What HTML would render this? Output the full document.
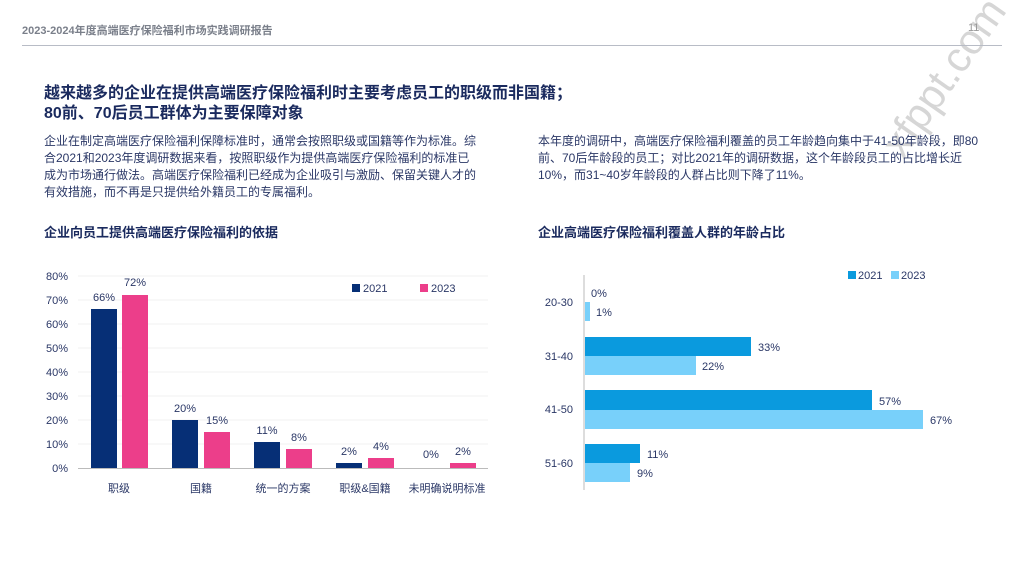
<!DOCTYPE html>
<html><head><meta charset="utf-8"><style>
body{margin:0;width:1024px;height:577px;background:#fff;font-family:"Liberation Sans","Noto Sans CJK SC",sans-serif;position:relative;overflow:hidden}
.a{position:absolute;white-space:nowrap}
</style></head><body>
<div class="a" style="font-size:42px;color:#d6d6d6;transform:rotate(-55deg);transform-origin:left top;left:872px;top:138px">xfppt.com</div>
<div class="a" style="left:22px;top:22px;font-size:11px;color:#7a7f8a;font-weight:bold">2023-2024年度高端医疗保险福利市场实践调研报告</div>
<div class="a" style="left:968px;top:22px;font-size:11px;color:#999">11</div>
<div class="a" style="left:22px;top:45px;width:980px;height:1px;background:#b8bcc6"></div>
<div class="a" style="left:44px;top:84px;font-size:16px;line-height:20px;font-weight:bold;color:#1a2a5e">越来越多的企业在提供高端医疗保险福利时主要考虑员工的职级而非国籍；<br>80前、70后员工群体为主要保障对象</div>
<div class="a" style="left:44px;top:133px;font-size:12px;line-height:17px;color:#2a3766;white-space:normal;width:432px">企业在制定高端医疗保险福利保障标准时，通常会按照职级或国籍等作为标准。综合2021和2023年度调研数据来看，按照职级作为提供高端医疗保险福利的标准已成为市场通行做法。高端医疗保险福利已经成为企业吸引与激励、保留关键人才的有效措施，而不再是只提供给外籍员工的专属福利。</div>
<div class="a" style="left:538px;top:133px;font-size:12px;line-height:17px;color:#2a3766;white-space:normal;width:450px">本年度的调研中，高端医疗保险福利覆盖的员工年龄趋向集中于41-50年龄段，即80前、70后年龄段的员工；对比2021年的调研数据，这个年龄段员工的占比增长近10%，而31~40岁年龄段的人群占比则下降了11%。</div>
<div class="a" style="left:44px;top:222px;font-size:13px;font-weight:bold;color:#1a2a5e">企业向员工提供高端医疗保险福利的依据</div>
<div class="a" style="left:538px;top:222px;font-size:13px;font-weight:bold;color:#1a2a5e">企业高端医疗保险福利覆盖人群的年龄占比</div>
<svg class="a" style="left:0;top:0" width="1024" height="577" font-family="Liberation Sans, Noto Sans CJK SC, sans-serif">
<g font-size="11" fill="#2a3766">
<g stroke="#f0f0f0">
<line x1="78" x2="488" y1="276" y2="276"/><line x1="78" x2="488" y1="300" y2="300"/><line x1="78" x2="488" y1="324" y2="324"/><line x1="78" x2="488" y1="348" y2="348"/><line x1="78" x2="488" y1="372" y2="372"/><line x1="78" x2="488" y1="396" y2="396"/><line x1="78" x2="488" y1="420" y2="420"/><line x1="78" x2="488" y1="444" y2="444"/></g>
<line x1="78" x2="488" y1="468.5" y2="468.5" stroke="#bbb"/>
<g text-anchor="end"><text x="68" y="280">80%</text><text x="68" y="304">70%</text><text x="68" y="328">60%</text><text x="68" y="352">50%</text><text x="68" y="376">40%</text><text x="68" y="400">30%</text><text x="68" y="424">20%</text><text x="68" y="448">10%</text><text x="68" y="472">0%</text></g>
<g fill="#062f76"><rect x="91" y="309" width="26" height="159"/><rect x="172" y="420" width="26" height="48"/><rect x="254" y="442" width="26" height="26"/><rect x="336" y="463" width="26" height="5"/></g>
<g fill="#ec3e8a"><rect x="122" y="295" width="26" height="173"/><rect x="204" y="432" width="26" height="36"/><rect x="286" y="449" width="26" height="19"/><rect x="368" y="458" width="26" height="10"/><rect x="450" y="463" width="26" height="5"/></g>
<g text-anchor="middle"><text x="104" y="301">66%</text><text x="135" y="286">72%</text><text x="185" y="412">20%</text><text x="217" y="424">15%</text><text x="267" y="434">11%</text><text x="299" y="441">8%</text><text x="349" y="455">2%</text><text x="381" y="450">4%</text><text x="431" y="458">0%</text><text x="463" y="455">2%</text>
<text x="119" y="492">职级</text><text x="201" y="492">国籍</text><text x="283" y="492">统一的方案</text><text x="365" y="492">职级&amp;国籍</text><text x="447" y="492">未明确说明标准</text></g>
<rect x="352" y="284" width="8" height="8" fill="#062f76"/><text x="363" y="292">2021</text>
<rect x="420" y="284" width="8" height="8" fill="#ec3e8a"/><text x="431" y="292">2023</text>
</g>
<g font-size="11" fill="#2a3766">
<line x1="584" x2="584" y1="275" y2="490" stroke="#bbb"/>
<g fill="#0a9ade"><rect x="585" y="337" width="166" height="19"/><rect x="585" y="390" width="287" height="20"/><rect x="585" y="444" width="55" height="19"/></g>
<g fill="#78d0fa"><rect x="585" y="302" width="5" height="19"/><rect x="585" y="356" width="111" height="19"/><rect x="585" y="410" width="338" height="19"/><rect x="585" y="463" width="45" height="19"/></g>
<g text-anchor="end"><text x="573" y="306">20-30</text><text x="573" y="360">31-40</text><text x="573" y="413">41-50</text><text x="573" y="467">51-60</text></g>
<text x="591" y="297">0%</text><text x="596" y="316">1%</text><text x="758" y="351">33%</text><text x="702" y="370">22%</text><text x="879" y="405">57%</text><text x="930" y="424">67%</text><text x="647" y="458">11%</text><text x="637" y="477">9%</text>
<rect x="848" y="271" width="8" height="8" fill="#0a9ade"/><text x="858" y="279">2021</text>
<rect x="891" y="271" width="8" height="8" fill="#78d0fa"/><text x="901" y="279">2023</text>
</g>
</svg>
</body></html>
